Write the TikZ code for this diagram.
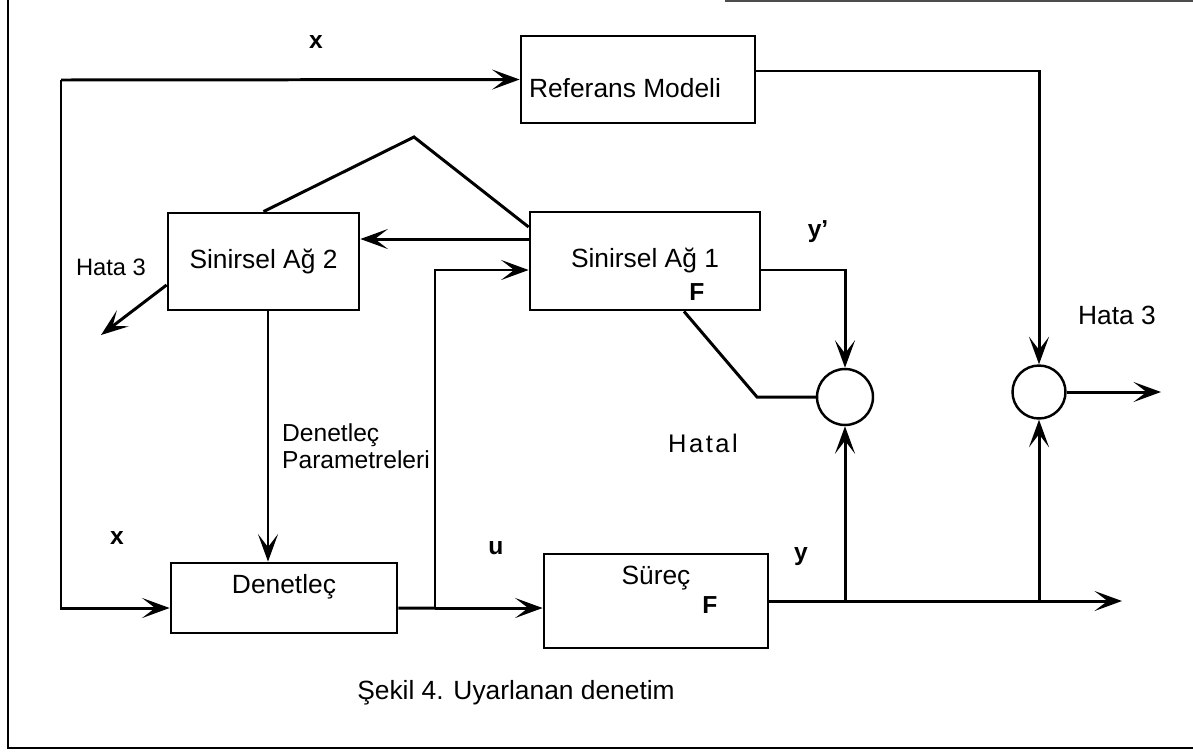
\documentclass[tikz,border=0pt]{standalone}
\usepackage{fontspec}
\setmainfont{Liberation Sans}
\usetikzlibrary{arrows.meta,positioning,calc}

\begin{document}
\begin{tikzpicture}[x=0.02cm, y=-0.02cm,
  blok/.style={draw, line width=1.6pt, inner sep=0pt, font=\fontsize{15}{18}\selectfont},
  topla/.style={draw, circle, line width=1.4pt, inner sep=0pt},
  ok/.style={-{Stealth[length=5.5mm, width=4mm, inset=2.6mm]}, line width=1.7pt},
  hat/.style={line width=1.7pt},
  yazi/.style={font=\fontsize{15}{18}\selectfont},
  harf/.style={font=\bfseries\fontsize{14}{16}\selectfont}]
\useasboundingbox (0,0) rectangle (1193,751);
\draw[line width=1.5pt] (1193,748) -- (8,748) -- (8,0);
\draw[line width=0.6pt, black!70] (725,1) -- (1193,1);

\node[blok, minimum width=4.68cm, minimum height=1.74cm,
  label={[yazi, xshift=-0.26cm, yshift=-0.17cm]center:Referans Modeli}] (ref) at (638,79.5) {};
\node[blok, minimum width=3.82cm, minimum height=1.94cm] (sa2) at (263.5,261.5) {Sinirsel Ağ 2};
\node[blok, minimum width=4.6cm, minimum height=1.96cm] (sa1) at (645,261) {Sinirsel Ağ 1};
\node[blok, minimum width=4.52cm, minimum height=1.4cm,
  label={[yazi, yshift=0.22cm]center:Denetleç}] (den) at (284,598) {};
\node[blok, minimum width=4.48cm, minimum height=1.88cm,
  label={[yazi, yshift=0.46cm]center:Süreç}] (sur) at (656,601) {};
\node[topla, minimum size=1.12cm] (c1) at (845,397) {};
\node[topla, minimum size=1.06cm] (c2) at (1039,392) {};

\node[harf] (f1) at (697,292) {F};
\node[harf] (f2) at (710,605) {F};
\node[harf] (xu) at (316,42) {x};
\node[harf] (xa) at (117,538) {x};
\node[harf] (ul) at (496,548) {u};
\node[harf] (yl) at (801,557) {y};
\node[harf] (yp) at (818,232) {y'};
\node[font=\fontsize{13.5}{16}\selectfont] (h3s) at (111,267) {Hata 3};
\node[yazi] (h3r) at (1117,315) {Hata 3};
\node[font=\fontsize{14.5}{17}\selectfont\addfontfeatures{LetterSpace=10}] (hl) at (703,443) {Hatal};
\node[font=\fontsize{14}{15.3}\selectfont, anchor=west, align=left] (par) at (276,446) {Denetleç\\Parametreleri};
\node[yazi] (cap) at (516,693) {Şekil 4. Uyarlanan denetim};

\coordinate (xk) at (61,80);
\coordinate (tepe) at (414,137);
\coordinate (uk) at (435,608);
\coordinate (kir) at (757,397);
\coordinate (h3) at (101,335);
\coordinate (yout) at (1122,601);
\coordinate (hout) at (1161,392);

\draw[ok] (xk) -- (ref.west);
\draw[ok] (xk) |- ([yshift=-0.2cm]den.west);
\draw[ok] ([yshift=0.17cm]ref.east) -| (c2.north);
\draw[hat] (sa2.north) -- (tepe) -- ([yshift=0.68cm]sa1.west);
\draw[ok] ([yshift=0.44cm]sa1.west) -- ([yshift=0.44cm]sa1.west -| sa2.east);
\draw[ok] ([yshift=-0.47cm]sa2.west) -- (h3);
\draw[ok] ([xshift=0.09cm]sa2.south) -- ([xshift=0.09cm]sa2.south |- den.north);
\draw[hat] ([yshift=-0.2cm]den.east) -- (uk);
\draw[ok] (uk) -- (uk -| sur.west);
\draw[ok] (uk) |- ([yshift=-0.18cm]sa1.west);
\draw[ok] ([yshift=-0.18cm]sa1.east) -| (c1.north);
\draw[hat] ([xshift=0.78cm]sa1.south) -- (kir) -- (c1.west);
\draw[ok] (sur.east) -- (yout);
\draw[ok] (c1.south |- sur.east) -- (c1.south);
\draw[ok] (c2.south |- sur.east) -- (c2.south);
\draw[ok] (c2.east) -- (hout);
\end{tikzpicture}
\end{document}
